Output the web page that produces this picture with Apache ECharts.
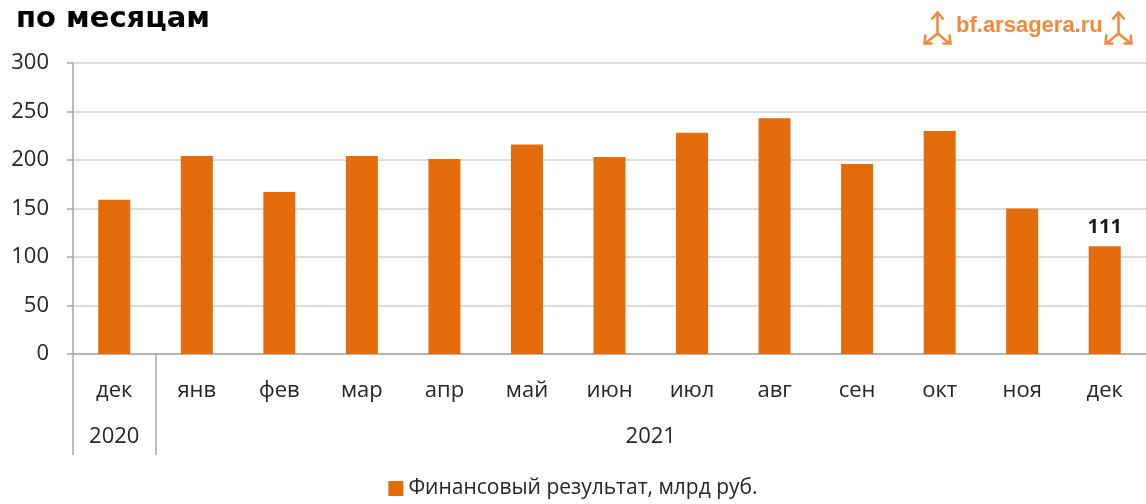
<!DOCTYPE html>
<html>
<head>
<meta charset="utf-8">
<script src="https://cdn.jsdelivr.net/npm/echarts@6/dist/echarts.min.js"></script>
<style>
  html, body { margin: 0; padding: 0; background: #fff; }
  #chart { width: 1146px; height: 504px; }
</style>
</head>
<body>
<div id="chart"></div>
<script>
// данные
const months = ['дек', 'янв', 'фев', 'мар', 'апр', 'май', 'июн', 'июл', 'авг', 'сен', 'окт', 'ноя', 'дек']
const values = [159, 204, 167, 204, 201, 216, 203, 228, 243, 196, 230, 150, 111]
const yearLabels = ['2020', '2021']
const yearCenters = [0.5, 7]      // середины групп в долях категорий
const yearBounds = [0, 1]         // границы групп
const yTicks = [0, 50, 100, 150, 200, 250, 300]
const seriesName = 'Финансовый результат, млрд руб.'

const barColor = '#e46c0a'
const axisColor = '#a6a6a6'
const logoColor = '#f08a3c'
const font = '"Open Sans", "Noto Sans", sans-serif'

const chart = echarts.init(document.getElementById('chart'))

const barData = values.map((v, i) => {
  // подпись только у последнего столбца
  if (i === values.length - 1) {
    return {
      value: v,
      label: {
        show: true,
        position: 'top',
        distance: 9,
        color: '#1a1a1a',
        fontWeight: 'bold',
        fontSize: 20,
        fontFamily: font
      }
    }
  }
  return v
})

// значок логотипа (стрелки)
function logoIcon(left) {
  const s = { stroke: logoColor, lineWidth: 2.5, fill: null }
  return {
    type: 'group',
    left: left,
    top: 10,
    children: [
      { type: 'polyline', shape: { points: [[14, 23], [14, 3]] }, style: s },
      { type: 'polyline', shape: { points: [[8, 9], [14, 2], [20, 9]] }, style: s },
      { type: 'polyline', shape: { points: [[14, 23], [3, 32]] }, style: s },
      { type: 'polyline', shape: { points: [[14, 23], [25, 32]] }, style: s },
      { type: 'polyline', shape: { points: [[2, 24], [1, 33], [9, 33]] }, style: s },
      { type: 'polyline', shape: { points: [[26, 24], [27, 33], [19, 33]] }, style: s }
    ]
  }
}

chart.setOption({
  animation: false,
  textStyle: { fontFamily: font },
  title: {
    text: 'по месяцам',
    left: 11,
    top: 0,
    textStyle: {
      fontFamily: '"DejaVu Sans", sans-serif',
      fontWeight: 'bold',
      fontSize: 29,
      color: '#000'
    }
  },
  legend: {
    bottom: 0,
    left: 'center',
    itemWidth: 15,
    itemHeight: 15,
    itemGap: 6,
    icon: 'rect',
    textStyle: { fontSize: 21, color: '#262626', fontFamily: font },
    data: [seriesName]
  },
  grid: {
    left: 73,
    right: 0,
    top: 63,
    bottom: 150
  },
  xAxis: [
    {
      type: 'category',
      data: months,
      axisLine: { lineStyle: { color: axisColor, width: 1.5 } },
      axisTick: { interval: 0, length: 49, lineStyle: { color: axisColor, width: 1.5 } },
      axisLabel: { interval: 0, margin: 26, fontSize: 22, color: '#262626' }
    },
    {
      // второй ряд подписей: годы
      type: 'value',
      position: 'bottom',
      min: 0,
      max: months.length,
      splitLine: { show: false },
      axisLine: { show: false },
      axisTick: {
        show: true,
        customValues: yearBounds,
        length: 101,
        lineStyle: { color: axisColor, width: 1.5 }
      },
      axisLabel: {
        customValues: yearCenters,
        margin: 72,
        fontSize: 22,
        color: '#262626',
        formatter: v => (v < 1 ? yearLabels[0] : yearLabels[1])
      }
    }
  ],
  yAxis: {
    type: 'value',
    min: 0,
    max: 300,
    interval: 50,
    axisLine: { show: true, lineStyle: { color: axisColor, width: 1.5 } },
    axisTick: { show: true, length: 6, lineStyle: { color: axisColor, width: 1.5 } },
    splitLine: { lineStyle: { color: '#d0d0d0', width: 1.5 } },
    axisLabel: {
      margin: 24,
      fontSize: 22,
      color: '#262626',
      customValues: yTicks
    }
  },
  series: [
    {
      name: seriesName,
      type: 'bar',
      xAxisIndex: 0,
      barWidth: 32,
      itemStyle: { color: barColor },
      data: barData
    }
  ],
  graphic: [
    {
      type: 'text',
      left: 956,
      top: 15,
      style: {
        text: 'bf.arsagera.ru',
        fill: logoColor,
        font: 'bold 22px "Liberation Sans", Arial, sans-serif'
      }
    },
    logoIcon(922),
    logoIcon(1103)
  ]
})
</script>
</body>
</html>
